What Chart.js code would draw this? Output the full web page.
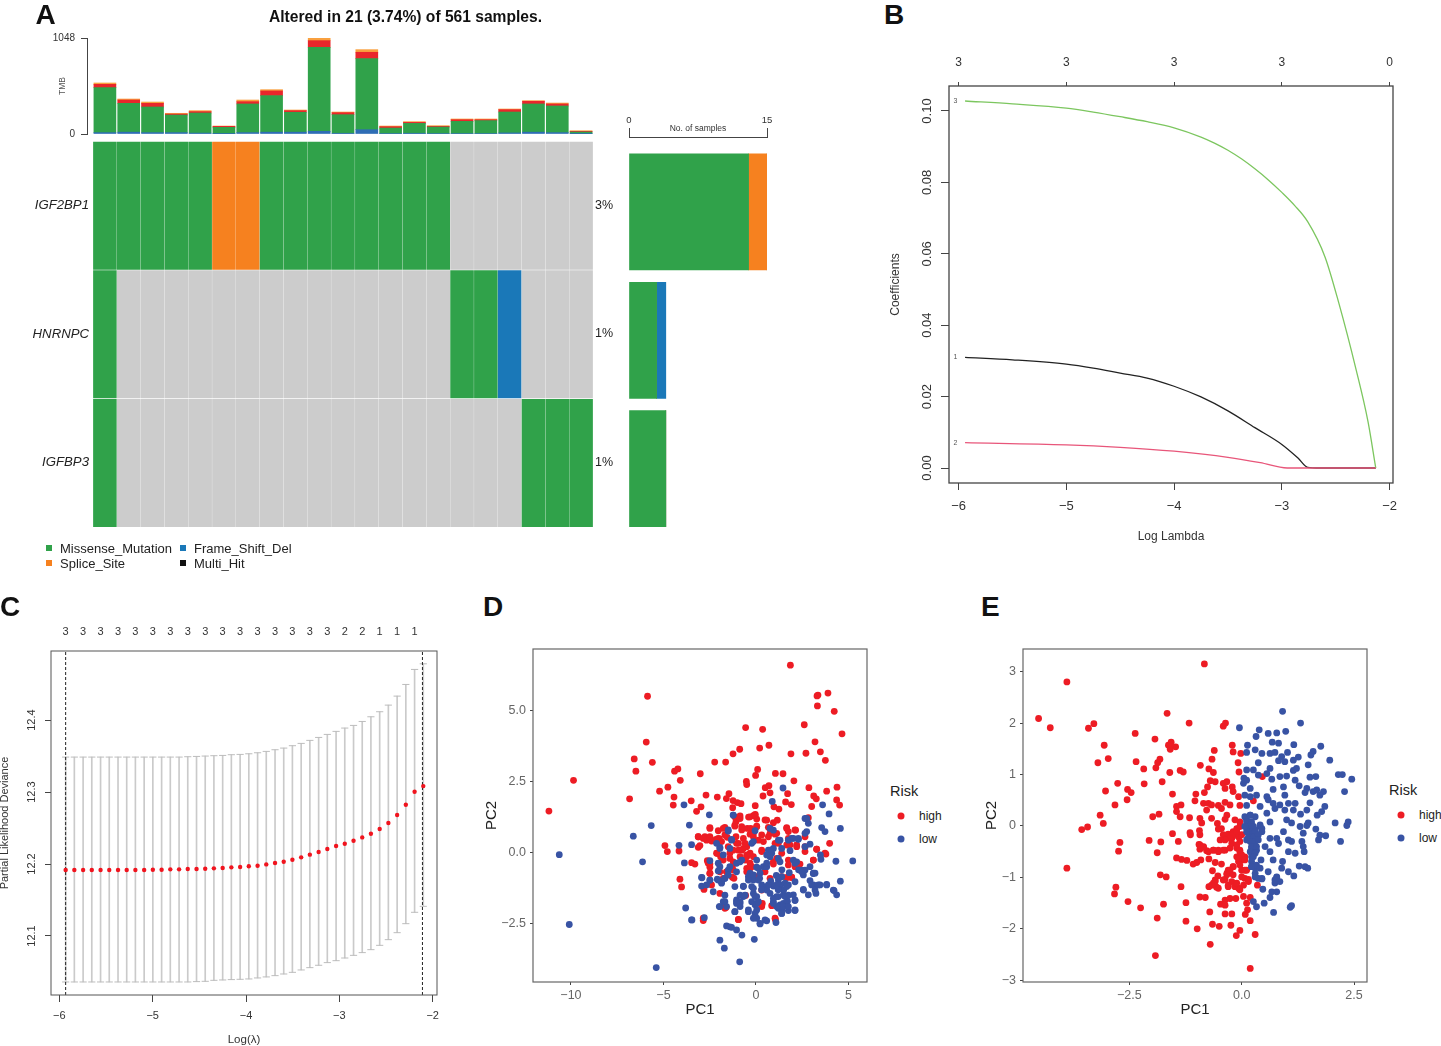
<!DOCTYPE html>
<html>
<head>
<meta charset="utf-8">
<title>Figure</title>
<script src="https://cdn.jsdelivr.net/npm/chart.js@4"></script>
<style>
  html, body { margin: 0; padding: 0; background: #fff; }
  body { position: relative; width: 1441px; height: 1046px; overflow: hidden; font-family: "Liberation Sans", Arial, sans-serif; color: #222; }
  canvas { position: absolute; }
  .txt { position: absolute; white-space: nowrap; line-height: 1; transform: translateY(-50%); }
  .letter { font-weight: bold; color: #111; }
  .sq { position: absolute; width: 6px; height: 6px; transform: translate(-50%, -50%); }
  .dot { position: absolute; width: 7px; height: 7px; border-radius: 50%; transform: translate(-50%, -50%); }
</style>
</head>
<body>
<script>
// Panel A - oncoplot data
const sampleIndex = [0,1,2,3,4,5,6,7,8,9,10,11,12,13,14,15,16,17,18,19,20];
const tmbBlue =   [15,20,15,15,10,3,15,20,20,29,8,47,5,8,5,5,5,12,20,15,3];
const tmbGreen =  [491,315,280,192,219,70,313,399,217,917,203,776,60,108,71,133,141,228,308,291,19];
const tmbRed =    [36,36,40,11,15,11,25,51,18,73,22,69,15,11,8,18,10,26,29,22,7];
const tmbOrange = [15,11,14,8,11,3,18,14,7,29,7,29,7,8,7,8,8,7,7,10,7];

const genes = ["IGF2BP1", "HNRNPC", "IGFBP3"];
const genePercent = ["3%", "1%", "1%"];
const geneRows = [2, 1, 0];
const geneTicks = [2.5, 1.5, 0.5];
const igf2bp1Cells = ["M","M","M","M","M","S","S","M","M","M","M","M","M","M","M","N","N","N","N","N","N"];
const hnrnpcCells =  ["M","N","N","N","N","N","N","N","N","N","N","N","N","N","N","M","M","F","N","N","N"];
const igfbp3Cells =  ["M","N","N","N","N","N","N","N","N","N","N","N","N","N","N","N","N","N","M","M","M"];
const missenseCounts = [13, 3, 4];
const spliceCounts = [2, 0, 0];
const frameshiftCounts = [0, 1, 0];

// Panel B - coefficient paths
const greenX = [-5.94,-5.5,-5,-4.75,-4.5,-4.25,-4,-3.75,-3.625,-3.5,-3.375,-3.25,-3.125,-3,-2.88,-2.76,-2.6,-2.47,-2.31,-2.2,-2.128];
const greenY = [.1028,.102,.1008,.0997,.0984,.097,.0953,.0927,.091,.089,.0866,.0838,.0807,.0772,.0735,.069,.0592,.0461,.0275,.013,0];
const blackX = [-5.94,-5.5,-5,-4.75,-4.5,-4.25,-4,-3.75,-3.5,-3.25,-3,-2.85,-2.76,-2.65,-2.128];
const blackY = [.031,.0303,.0291,.028,.0266,.0252,.0229,.0199,.016,.0113,.0066,.0028,.0002,0,0];
const pinkX = [-5.94,-5,-4.5,-4,-3.5,-3.2,-2.95,-2.128];
const pinkY = [.0071,.0065,.0058,.0047,.003,.0015,0,0];
const pathTopTicks = [-6,-5,-4,-3,-2];
const pathTopLabels = ["3","3","3","3","0"];
const pathLabels = ["3","1","2"];

// Panel C - cross validation curve
const cvLambda = [-5.932,-5.839,-5.745,-5.652,-5.558,-5.465,-5.371,-5.278,-5.185,-5.091,-4.998,-4.904,-4.811,-4.717,-4.624,-4.53,-4.437,-4.344,-4.25,-4.157,-4.063,-3.97,-3.876,-3.783,-3.689,-3.596,-3.503,-3.409,-3.316,-3.222,-3.129,-3.035,-2.942,-2.848,-2.755,-2.662,-2.568,-2.475,-2.381,-2.288,-2.194,-2.101];
const cvMean = [12.1917,12.1917,12.1917,12.1917,12.1917,12.1917,12.1917,12.1917,12.1917,12.1917,12.1921,12.1921,12.1926,12.1926,12.1931,12.1931,12.1935,12.194,12.1944,12.1954,12.1958,12.1968,12.1977,12.1995,12.2014,12.2032,12.206,12.2093,12.213,12.2167,12.2208,12.225,12.2282,12.2324,12.237,12.2421,12.2486,12.257,12.2681,12.2824,12.3005,12.3083];
const cvUpper = [12.3486,12.3486,12.3486,12.3486,12.3486,12.3486,12.3486,12.3486,12.3486,12.3486,12.3486,12.3486,12.3486,12.3486,12.3491,12.3495,12.35,12.3505,12.3509,12.3519,12.3523,12.3532,12.3546,12.3565,12.3588,12.3611,12.3644,12.3676,12.3718,12.3759,12.3801,12.3843,12.3889,12.3926,12.3981,12.4046,12.4116,12.4208,12.4333,12.4495,12.4704,12.4782];
const cvLower = [12.0361,12.0361,12.0361,12.0361,12.0361,12.0361,12.0361,12.0361,12.0361,12.0361,12.0361,12.0361,12.0361,12.0361,12.0361,12.0366,12.037,12.0384,12.0389,12.0394,12.0398,12.0403,12.0417,12.0431,12.0449,12.0472,12.0495,12.0528,12.056,12.0593,12.063,12.0657,12.0694,12.0731,12.0769,12.081,12.087,12.0949,12.1046,12.1171,12.1329,12.1412];
const cvVlines = [-5.932, -2.11];
const cvTopTicks = [-5.932,-5.745,-5.558,-5.371,-5.185,-4.998,-4.811,-4.624,-4.437,-4.25,-4.063,-3.876,-3.689,-3.503,-3.316,-3.129,-2.942,-2.755,-2.568,-2.381,-2.194];
const cvTopLabels = ["3","3","3","3","3","3","3","3","3","3","3","3","3","3","3","3","2","2","1","1","1"];

// Panel D - PCA, pairs of PC1, PC2
const dHigh = [[1.86,6.58],[-5.86,5.49],[3.89,5.6],[3.35,5.53],[3.3,5.5],[3.32,5.15],[4.23,4.96],[-.56,4.39],[.36,4.33],[2.61,4.49],[4.65,4.17],[-5.93,3.88],[3.19,3.89],[.2,3.67],[.7,3.77],[-.88,3.63],[-1.24,3.47],[1.89,3.47],[2.7,3.49],[3.48,3.54],[-6.58,3.29],[-5.6,3.17],[-2.23,3.18],[-1.64,3.18],[3.75,3.24],[-6.49,2.86],[-4.4,2.86],[-4.22,2.94],[-3.01,2.77],[.09,2.92],[-.02,2.71],[1.05,2.78],[1.46,2.77],[-9.86,2.54],[-4.09,2.54],[2.05,2.52],[-.52,2.5],[-.5,2.39],[-4.76,2.3],[-5.21,2.16],[.5,2.28],[.7,2.35],[2.86,2.28],[4.38,2.3],[3.82,2.16],[.76,2.1],[1.71,2.07],[-6.83,1.89],[-4.43,1.95],[-2.7,2.02],[-2.09,1.95],[-1.46,2.07],[.38,1.99],[3.12,1.99],[3.26,1.89],[4.36,1.85],[-1.6,1.9],[-3.5,1.82],[-1.24,1.83],[-1.01,1.76],[-.81,1.72],[1.6,1.78],[1.91,1.69],[-4.47,1.67],[-2.97,1.61],[-.04,1.65],[.97,1.61],[1.24,1.53],[3.01,1.62],[4.52,1.67],[-11.19,1.46],[-3.21,1.45],[-1.26,1.58],[2.83,1.23],[-.14,1.3],[-.04,1.34],[-1.15,1.26],[-.86,1.29],[-.4,1.25],[.04,1.18],[-1.08,1.09],[-.77,.91],[-1.14,.93],[-.47,.85],[-.29,.85],[.04,.93],[.58,1.14],[.67,.89],[.94,1.05],[1.15,1.14],[-2.49,.88],[-1.68,.89],[-2.04,.77],[-2.49,.56],[-3.12,.56],[-2.76,.56],[-2.67,.44],[-2.4,.41],[-2.16,.47],[-1.98,.49],[-1.86,.39],[-1.55,.54],[-1.08,.56],[-.68,.5],[-.32,.65],[-.14,.56],[.13,.44],[.4,.39],[.76,.68],[1.03,.65],[1.66,.88],[1.75,.74],[2.14,.79],[1.21,.33],[1.66,.27],[2.2,.21],[2.65,.56],[3.28,.12],[3.98,.33],[3.78,-.05],[3.1,-.26],[-3.12,.19],[-3.03,.25],[-4.92,.25],[-4.79,.04],[-4.16,.06],[-3.48,-.35],[-3.3,-.4],[-2.63,-.28],[-2.49,-.4],[-2.09,-.02],[-1.91,-.14],[-1.5,.21],[-1.41,-.02],[-1.05,.33],[-.95,.09],[-.68,.15],[-.5,.21],[-.32,-.02],[-.5,-.14],[-.59,-.26],[-.14,-.14],[.31,.04],[.94,-.32],[1.12,-.2],[1.39,-.02],[1.75,-.26],[2.11,-.49],[2.2,-.43],[2.38,-.4],[-2.49,-.72],[-2.49,-.51],[-1.59,-.67],[-1.77,-.26],[-1.23,-.32],[-1.28,-.49],[-.5,-.55],[-.23,-.49],[.04,-.84],[.49,-.67],[.94,-.4],[1.39,-.84],[1.75,-.86],[1.93,-.86],[-1.28,-.86],[-1.19,-.9],[-1.77,-.9],[-4.11,-.93],[-4.02,-1.2],[-2.81,-1.29],[-2.4,-1.13],[-1.95,-1.43],[-.56,-1.5],[-1.62,-1.92],[.34,-1.78],[.31,-1.89],[-.95,-2.35],[1.05,-2.34],[-2.85,-2.38],[.85,-1.86],
  [-.32,1.26],[-.05,1.32],[-.86,1.2],[.49,1.15],[.76,.85],[.04,.91],[-.14,.68],[.31,.62],[.67,.56],[1.12,.68],[-.77,.8],[-1.14,.97],[-1.77,.85],[-2.49,.85],[-3.12,.56],[-2.85,.5],[-2.49,.5],[-2.04,.5],[-1.68,.62],[-.95,.33],[-.59,.33],[-.77,.09],[-.5,-.08],[.31,.09],[1.03,.33],[1.66,.85],[1.75,.5],[2.11,.8],[1.84,.27],[2.2,.27],[2.65,.21],[2.65,.04],[3.28,.12],[3.73,-.02],[3.1,-.26],[2.2,-.37],[1.75,-.43],[1.93,-.87],[1.66,-.87],[.76,-.9],[.31,-1.31],[.31,-1.84],[-.32,-.55],[-.5,-.67],[-1.23,-.61],[-1.59,-.67],[-1.95,-.67],[-2.49,-.73],[-2.58,-.37],[-1.86,-.14],[-1.41,-.2],[-2.13,-.02],[-1.23,.09],[-.86,-.14],[-.32,-.37],[1.03,-2.3],[-.95,-2.34],[-2.85,-2.3],[-1.68,-1.95]];
const dLow = [[1.46,2.27],[.88,1.8],[-3.89,1.68],[3.6,1.68],[3.95,1.36],[-2.52,1.33],[-1.23,1.32],[2.65,1.2],[2.83,1.03],[2.74,.74],[-3.6,.97],[-5.66,.95],[3.55,.88],[3.73,.74],[4.56,.85],[-1.5,.76],[-6.63,.58],[-4.16,.26],[-3.48,.28],[-10.63,-.07],[-6.13,-.32],[-3.87,-.36],[5.23,-.29],[4.32,-.3],[3.51,-.23],[3.48,-.08],[2.92,.3],[2.65,.21],[1.93,.5],[2.29,.47],[1.75,.44],[1.84,.07],[.67,.09],[.94,.15],[1.3,.44],[.76,-.14],[.4,-.49],[.04,-.51],[.58,-.49],[.22,-.72],[-.32,-.72],[-.41,-.84],[-.68,-1.17],[-.14,-.96],[.31,-1.13],[.58,-1.19],[.94,-1.17],[1.3,-1.13],[1.57,-1.07],[1.75,-1.13],[.76,-1.43],[1.12,-1.54],[1.48,-1.48],[1.66,-1.54],[2.02,-1.48],[3.1,-.72],[2.92,-.98],[3.1,-1.13],[2.56,-1.29],[2.83,-1.48],[3.24,-1.43],[3.46,-1.13],[3.82,-1.11],[4.56,-1],[4.22,-1.33],[4.36,-1.48],[2.11,-1.68],[1.39,-2.13],[1.75,-2.03],[2.11,-2.03],[1.3,-1.83],[1.48,-1.78],[.94,-1.72],[1.12,-1.89],[.58,-1.31],[.04,-1.54],[-.14,-1.43],[-.05,-1.83],[.04,-2.01],[-.41,-2.07],[.04,-2.3],[.22,-2.5],[.58,-2.39],[1.08,-2.45],[-1.05,-1.78],[-.86,-1.72],[-1.14,-2.07],[-1.59,-1.89],[-1.98,-1.89],[-1.68,-1.72],[-3.8,-1.94],[-3.46,-2.36],[-2.79,-2.28],[-1.59,-2.57],[-1.32,-2.62],[-1.05,-2.71],[-.76,-2.89],[-1.95,-3.07],[-1.71,-3.35],[-.09,-3.04],[-.88,-3.83],[-5.39,-4.03],[-10.09,-2.52],[-2.94,-1.17],[-2.92,-.88],[-2.31,-1.37],[-2.49,-.96],[-2.09,-.93],[-1.86,-1.07],[-1.68,-.9],[-1.5,-.61],[-1.05,-.67],[-.77,-.26],[-1.95,-.49],[-2.04,-.64],[-2.04,-.37],[-2.49,-.28],[-1.41,.15],[-1.32,.44],[-1.95,.19],[-.23,.33],[.94,.79],[-.05,.77],[.76,.85],[.85,-.02],[1.39,.15],[2.02,-.26],[2.2,-.32],[2.47,-.61],[2.92,-.49],[3.19,-.72],[2.56,-.78],[2.11,-1.02],[-.14,-1.25],[-.68,-1.54],[-1.05,-1.66],[-.86,-1.89],[-.23,-1.72],[.04,-1.78],[1.39,-2.01],[1.66,-1.78],[.04,-.26],[.8,-1],[1.1,-.8],[1.5,-1.3],[1.2,-1.3],[.3,-1.3],[.2,-.9],[1.7,-1.7],[1.4,-.6],[1.8,-.7],[2.3,-.6],
  [-.14,.39],[.76,.09],[.58,-.08],[1.21,.44],[2.02,.5],[2.29,.5],[2.65,.68],[2.74,1.2],[-1.23,1.32],[-1.5,.8],[-1.32,.47],[-2.13,.33],[-1.95,.15],[-1.77,-.08],[-1.05,-.37],[-.86,-.32],[-1.41,-.49],[.13,-.55],[.58,-.37],[1.21,-.2],[1.3,-.32],[2.11,-.37],[2.65,-.61],[3.1,-.73],[2.47,-.67],[1.39,-.84],[1.21,-.96],[-.14,-.78],[-.41,-.96],[.13,-.96],[-.23,-1.19],[.67,-1.13],[1.12,-1.13],[1.66,-1.19],[-.68,-1.19],[-1.14,-1.19],[-1.68,-.9],[-1.86,-1.02],[-2.04,-.96],[-1.5,-.78],[-2.49,-.96],[-2.94,-.87],[-2.67,-1.13],[-.86,-1.49],[-.59,-1.49],[-.05,-1.54],[.13,-1.72],[-1.05,-1.72],[-.86,-1.78],[-1.68,-1.49],[-1.77,-1.72],[-1.95,-1.89],[-1.14,-2.07],[-.41,-2.01],[-.05,-2.13],[.94,-1.6],[1.21,-1.54],[1.57,-1.54],[1.75,-1.49],[.94,-1.78],[1.21,-1.95],[1.48,-1.89],[1.75,-1.89],[2.11,-2.01],[1.39,-2.13],[.49,-2.36],[.22,-2.48],[-.14,-2.3],[2.56,-1.31],[3.01,-1.13],[3.19,-1.31],[3.37,-1.13],[3.82,-1.13],[4.18,-1.31],[2.11,-1.66],[-1.41,-2.6],[-3.48,-2.36]];

// Panel E - PCA, pairs of PC1, PC2
const eHigh = [[-.83,3.15],[-3.89,2.8],[-4.52,2.09],[-4.26,1.91],[-3.41,1.9],[-3.29,1.99],[-1.66,2.19],[-1.17,2],[-.41,1.94],[-.36,2],[-2.37,1.8],[-1.93,1.69],[-3.06,1.57],[-1.57,1.63],[-1.63,1.57],[-1.47,1.54],[-1.59,1.49],[-1.58,1.59],[-.21,1.57],[-.61,1.47],[-.19,1.44],[-.02,1.41],[-2.97,1.31],[-3.2,1.23],[-2.35,1.25],[-.66,1.3],[-1.82,1.3],[-1.87,1.23],[-1.91,1.13],[-2.18,1.11],[-.92,1.18],[-.08,1.23],[-.73,1.11],[-.63,1.04],[-1.6,1.04],[-1.37,1.08],[-1.3,1.05],[-.06,1.05],[-2.76,.83],[-2.17,.82],[-1.77,.86],[.46,.96],[-.7,.88],[-.59,.86],[-.76,.76],[-.83,.65],[-1.02,.62],[-.41,.83],[-.33,.86],[-.37,.73],[-.21,.76],[-.19,.67],[-3.03,.68],[-2.54,.71],[-2.46,.65],[-2.55,.51],[-1.54,.62],[-2.82,.41],[-1.04,.49],[-.85,.44],[-.74,.44],[-.67,.41],[-.78,.31],[-.52,.4],[-.45,.34],[-.37,.46],[-.26,.41],[-.07,.57],[-.04,.4],[.26,.49],[-1.35,.41],[-1.45,.38],[-1.45,.28],[-1.37,.18],[-3.15,.21],[-1.98,.18],[-1.84,.23],[-1.16,.16],[-.93,.15],[-.89,.06],[-.67,.15],[-.54,.05],[-.33,.21],[-.37,.13],[-.15,.12],[-.04,.08],[-3.08,.05],[-3.43,-.02],[-3.56,-.07],[-1.54,-.15],[-1.15,-.13],[-1.14,-.17],[-.94,-.09],[-.93,-.17],[-.52,-.06],[-.41,-.17],[-.3,-.16],[-.19,-.11],[-.11,-.05],[-.07,-.21],[-.22,-.24],[-.04,-.3],[-2.71,-.32],[-2.06,-.28],[-1.8,-.31],[-1.41,-.3],[-.95,-.36],[-.85,-.4],[-.93,-.45],[-.78,-.48],[-.63,-.47],[-.52,-.47],[-.37,-.47],[-.26,-.43],[-.11,-.43],[-.04,-.5],[-2.74,-.49],[-1.88,-.52],[-1.45,-.62],[-1.34,-.65],[-1.22,-.67],[-1.08,-.74],[-1,-.71],[-.91,-.66],[-.73,-.64],[-.59,-.71],[-.45,-.74],[-.11,-.6],[0,-.66],[-.07,-.69],[.07,-.6],[-3.89,-.82],[-.65,-.87],[-.3,-.86],[-.19,-.79],[-.33,-.92],[0,-.86],[.11,-.86],[-1.81,-.95],[-1.68,-.99],[-.53,-.97],[-.59,-1.05],[-.37,-1.04],[-.22,-1.08],[.07,-1.02],[.15,-1.04],[-1.35,-1.18],[-2.8,-1.19],[-2.83,-1.32],[-.73,-1.18],[-.63,-1.11],[-.56,-1.19],[-.3,-1.18],[-.15,-1.18],[-.07,-1.21],[.35,-1.15],[-2.53,-1.47],[-.93,-1.38],[-.81,-1.39],[-.37,-1.44],[-.26,-1.41],[-.13,-1.41],[.04,-1.37],[.19,-1.39],[-1.74,-1.52],[-1.24,-1.49],[-.47,-1.52],[-.37,-1.54],[.11,-1.5],[-2.25,-1.59],[-.71,-1.67],[-.37,-1.71],[-.22,-1.71],[.08,-1.72],[.13,-1.63],[-1.88,-1.79],[-1.24,-1.85],[.19,-1.84],[-.65,-1.91],[-.5,-1.95],[-.24,-1.93],[-.99,-2],[-.04,-2.03],[-.12,-2.13],[.3,-2.11],[-.7,-2.3],[-1.92,-2.52],[.19,-2.77],
  [-.19,-.17],[-.07,-.21],[-.26,-.24],[0,-.17],[-.04,-.01],[-.11,-.11],[-.22,-.34],[-.11,-.37],[-.04,-.47],[0,-.56],[.07,-.66],[-.07,-.63],[-.04,-.76],[.07,-.86],[-.19,-.79],[-.26,-.86],[-.33,-.95],[-.19,-.95],[0,-.99],[.15,-1.08],[-.41,-.47],[-.52,-.5],[-.63,-.47],[-.74,-.5],[-.93,-.37],[-.85,-.41],[-.37,-.27],[-.48,-.27],[-.45,-.05],[-.41,-1.05],[-.59,-1.08],[-.52,-1.21],[-.67,-1.15],[-.3,-1.15],[-.11,-1.11],[.04,-1.15],[-.04,-1.24]];
const eLow = [[.91,2.23],[1.31,2],[-.05,1.91],[.39,1.87],[.59,1.8],[.78,1.81],[.98,1.84],[.32,1.74],[.68,1.63],[.82,1.61],[1.16,1.58],[.13,1.57],[1.76,1.55],[.3,1.48],[.11,1.43],[.45,1.41],[.63,1.41],[.74,1.43],[1.02,1.43],[1.59,1.45],[1.54,1.38],[.89,1.35],[1.26,1.34],[1.15,1.28],[.96,1.25],[.82,1.27],[1.96,1.28],[.37,1.23],[.63,1.12],[1.48,1.19],[1.22,1.12],[1.15,1.08],[.11,1.09],[.26,1.09],[.37,.99],[.56,1.02],[2.15,1],[2.24,1],[2.45,.91],[1.52,.95],[1.65,.96],[.85,.96],[.67,.91],[1,.97],[1.19,.89],[.05,.93],[.11,.89],[.04,.83],[.19,.73],[1.28,.78],[1.45,.73],[1.41,.65],[1.59,.67],[1.67,.7],[1.82,.67],[1.74,.6],[2.29,.67],[.7,.71],[.56,.57],[.93,.76],[.96,.6],[.33,.6],[.19,.57],[.07,.6],[.11,.4],[.41,.38],[.59,.51],[.7,.44],[.85,.41],[1.04,.44],[1.19,.44],[1.52,.45],[1.85,.38],[1.78,.28],[1.45,.31],[1.15,.31],[.96,.31],[.74,.34],[.56,.25],[.19,.21],[.3,.18],[1.68,.21],[1.31,.23],[.11,.12],[.63,.08],[1,.12],[1.11,.06],[1.48,.06],[2.08,.06],[2.37,.08],[2.34,.01],[.22,.02],[.41,-.01],[1.3,-.01],[1.45,.01],[1.65,-.06],[.15,-.08],[.3,-.08],[.45,-.11],[.93,-.11],[1.37,-.14],[1.74,-.18],[1.87,-.19],[1.71,-.27],[2.2,-.3],[.19,-.21],[.3,-.21],[.63,-.24],[.78,-.24],[1.04,-.27],[1.34,-.3],[.11,-.27],[.26,-.34],[.52,-.4],[.82,-.34],[1.11,-.3],[1.37,-.4],[.22,-.43],[.33,-.47],[.63,-.5],[1.04,-.5],[1.19,-.53],[1.39,-.5],[.26,-.53],[.22,-.6],[.7,-.66],[.43,-.66],[.91,-.69],[.22,-.79],[.3,-.82],[1.28,-.78],[1.41,-.79],[1.47,-.82],[.89,-.82],[.59,-.89],[1.04,-.89],[1.16,-.97],[.3,-.99],[.45,-1.03],[.78,-1],[.74,-1.11],[.47,-1.23],[.78,-1.28],[.67,-1.28],[.63,-1.39],[.26,-1.47],[.33,-1.57],[.5,-1.5],[.71,-1.68],[1.11,-1.55],[1.08,-1.58],
  [.07,.18],[.19,.21],[.11,.08],[.22,.08],[.15,-.01],[.26,-.01],[.19,-.11],[.3,-.11],[.15,-.21],[.26,-.21],[.37,-.17],[.19,-.3],[.3,-.3],[.22,-.4],[.33,-.4],[.19,-.5],[.3,-.53],[.26,-.6],[.22,-.69],[.37,-.27],[.11,-.11],[.45,-.05],[.41,.02],[.07,-.01],[.33,-.76],[.22,-.79],[.41,-.82],[.3,-.92],[.37,-1.02],[.45,-1.02],[.78,-.99],[.85,-1.08],[.74,-1.05]];

const riskLabels = ["high", "low"];
const legendItems = ["Missense_Mutation", "Splice_Site", "Frame_Shift_Del", "Multi_Hit"];

// Colours
const GREEN = "#30A24A", ORANGE = "#F6811F", BLUE = "#1A78B8", GREY = "#CCCCCC", RED = "#E9262B";
const RISK_RED = "#ED1C24", RISK_BLUE = "#3853A4";
const cellColor = { M: GREEN, S: ORANGE, F: BLUE, N: GREY };

Chart.defaults.animation = false;
Chart.defaults.responsive = false;
Chart.defaults.font.family = '"Liberation Sans", Arial, sans-serif';
Chart.defaults.plugins.legend.display = false;
Chart.defaults.plugins.tooltip.enabled = false;

// Rectangle round the plot area
const frame = {
    id: "frame",
    afterDraw(chart, args, opts) {
        if (!opts.color) return;
        const a = chart.chartArea, c = chart.ctx;
        c.save();
        c.strokeStyle = opts.color;
        c.lineWidth = opts.width || 1;
        c.strokeRect(a.left, a.top, a.right - a.left, a.bottom - a.top);
        c.restore();
    }
};

// Little 3 / 1 / 2 labels at the start of the paths in B
const pathTags = {
    id: "pathTags",
    afterDatasetsDraw(chart) {
        const c = chart.ctx, xs = chart.scales.x, ys = chart.scales.y;
        c.save();
        c.font = '7px "Liberation Sans"';
        c.fillStyle = "#555";
        c.textAlign = "center";
        c.textBaseline = "middle";
        chart.data.datasets.forEach((d, i) => {
            c.fillText(pathLabels[i], xs.getPixelForValue(-6.03), ys.getPixelForValue(d.data[0].y));
        });
        c.restore();
    }
};

// Canvas placed so that the plot area lands on box [l, t, r, b], with margins m around it
function draw(box, m, config) {
    const cv = document.createElement("canvas");
    cv.width = box[2] - box[0] + m.l + m.r;
    cv.height = box[3] - box[1] + m.t + m.b;
    cv.style.left = (box[0] - m.l) + "px";
    cv.style.top = (box[1] - m.t) + "px";
    document.body.appendChild(cv);
    config.options.layout = { padding: m.pad || 0 };
    config.plugins = (config.plugins || []).concat([frame]);
    return new Chart(cv, config);
}

const fixH = h => s => { s.height = h; };
const fixW = w => s => { s.width = w; };
const ticksAt = vals => s => { s.ticks = vals.map(v => ({ value: v })); };
const minus = t => String(t).replace("-", "\u2212");
const pairs = arr => arr.map(p => ({ x: p[0], y: p[1] }));

function text(str, x, y, size, cls) {
    const el = document.createElement("div");
    el.className = "txt " + (cls || "");
    el.textContent = str;
    el.style.left = x + "px";
    el.style.top = y + "px";
    el.style.fontSize = size + "px";
    document.body.appendChild(el);
    return el;
}

function marker(cls, x, y, color) {
    const el = document.createElement("div");
    el.className = cls;
    el.style.left = x + "px";
    el.style.top = y + "px";
    el.style.background = color;
    document.body.appendChild(el);
}

// ---- Panel A: TMB bars
draw([87, 38, 593, 134], { l: 42, r: 0, t: 14, b: 14, pad: { bottom: 14, top: 14 } }, {
    type: "bar",
    data: {
        datasets: [
            { data: sampleIndex.map(i => ({ x: i, y: tmbBlue[i] })), backgroundColor: "#2F6DB5" },
            { data: sampleIndex.map(i => ({ x: i, y: tmbGreen[i] })), backgroundColor: GREEN },
            { data: sampleIndex.map(i => ({ x: i, y: tmbRed[i] })), backgroundColor: RED },
            { data: sampleIndex.map(i => ({ x: i, y: tmbOrange[i] })), backgroundColor: "#F9A03F" }
        ].map(d => Object.assign(d, { stack: "tmb", barThickness: 22 }))
    },
    options: {
        scales: {
            x: { type: "linear", display: false, min: -0.752, max: 20.5, offset: false },
            y: {
                min: 0, max: 1048, stacked: true,
                afterFit: fixW(42), afterBuildTicks: ticksAt([0, 1048]),
                ticks: { font: { size: 10 }, color: "#333", padding: 6, callback: v => v },
                grid: { drawOnChartArea: false, tickLength: 6, color: "#444" },
                border: { display: true, color: "#444", width: 1 },
                title: { display: true, text: "TMB", font: { size: 8.5 }, color: "#555", padding: { top: 12.4, bottom: 0 } }
            }
        }
    }
});

// ---- Panel A: mutation cells
draw([93, 141, 593, 527], { l: 93, r: 30, t: 14, b: 14, pad: { top: 14, bottom: 14, right: 0 } }, {
    type: "bar",
    data: {
        labels: sampleIndex.map(i => "S" + (i + 1)),
        datasets: [igf2bp1Cells, hnrnpcCells, igfbp3Cells].map((cells, r) => ({
            data: cells.map(() => [geneRows[r], geneRows[r] + 0.995]),
            backgroundColor: cells.map(c => cellColor[c]),
            grouped: false,
            barPercentage: 0.99,
            categoryPercentage: 1
        }))
    },
    options: {
        scales: {
            x: { display: false },
            y: {
                min: 0, max: 3,
                afterFit: fixW(93), afterBuildTicks: ticksAt(geneTicks),
                ticks: { font: { size: 13.2, style: "italic" }, color: "#222", padding: 4, callback: (v, i) => genes[i] },
                grid: { display: false, drawTicks: false }, border: { display: false }
            },
            y2: {
                position: "right", min: 0, max: 3,
                afterFit: fixW(30), afterBuildTicks: ticksAt(geneTicks),
                ticks: { font: { size: 12.5 }, color: "#222", padding: 2, callback: (v, i) => genePercent[i] },
                grid: { display: false, drawTicks: false }, border: { display: false }
            }
        }
    }
});

// ---- Panel A: samples per gene
draw([629, 137, 767, 535], { l: 15, r: 15, t: 27, b: 0, pad: { left: 15, right: 15 } }, {
    type: "bar",
    data: {
        datasets: [
            { data: missenseCounts.map((v, i) => ({ x: v, y: i })), backgroundColor: GREEN },
            { data: spliceCounts.map((v, i) => ({ x: v, y: i })), backgroundColor: ORANGE },
            { data: frameshiftCounts.map((v, i) => ({ x: v, y: i })), backgroundColor: BLUE }
        ].map(d => Object.assign(d, { stack: "n", barThickness: 116 }))
    },
    options: {
        indexAxis: "y",
        scales: {
            y: { type: "linear", display: false, reverse: true, min: -0.584, max: 2.517, offset: false },
            x: {
                position: "top", min: 0, max: 15, stacked: true, offset: false,
                afterFit: fixH(27), afterBuildTicks: ticksAt([0, 15]),
                ticks: { font: { size: 9.5 }, color: "#333", padding: 2, maxRotation: 0, callback: v => v },
                grid: { offset: false, drawOnChartArea: false, tickLength: 9, color: "#444" },
                border: { display: true, color: "#444" },
                title: { display: true, text: "No. of samples", font: { size: 8.5 }, color: "#333", padding: { top: 14, bottom: 0 } }
            }
        }
    }
});

// ---- Panel B: coefficient paths
draw([949, 86, 1393, 483], { l: 62, r: 20, t: 40, b: 62, pad: { right: 20 } }, {
    type: "scatter",
    data: {
        datasets: [
            { data: greenX.map((x, i) => ({ x: x, y: greenY[i] })), borderColor: "#7CC65F", order: 2 },
            { data: blackX.map((x, i) => ({ x: x, y: blackY[i] })), borderColor: "#222", order: 3 },
            { data: pinkX.map((x, i) => ({ x: x, y: pinkY[i] })), borderColor: "#E8567A", order: 1 }
        ].map(d => Object.assign(d, { showLine: true, pointRadius: 0, borderWidth: 1.3, cubicInterpolationMode: "monotone" }))
    },
    plugins: [pathTags],
    options: {
        plugins: { frame: { color: "#444", width: 1.3 } },
        scales: {
            x: {
                min: -6.089, max: -1.968,
                afterFit: fixH(62), afterBuildTicks: ticksAt([-6, -5, -4, -3, -2]),
                ticks: { font: { size: 13 }, color: "#333", padding: 9, maxRotation: 0, callback: minus },
                grid: { drawOnChartArea: false, tickLength: 7, color: "#444" },
                border: { display: false },
                title: { display: true, text: "Log Lambda", font: { size: 12 }, color: "#333", padding: { top: 0, bottom: 1 } }
            },
            x2: {
                position: "top", min: -6.089, max: -1.968,
                afterFit: fixH(40), afterBuildTicks: ticksAt(pathTopTicks),
                ticks: { font: { size: 12 }, color: "#333", padding: 12, maxRotation: 0, callback: (v, i) => pathTopLabels[i] },
                grid: { drawOnChartArea: false, tickLength: 4, color: "#444" },
                border: { display: false }
            },
            y: {
                min: -0.0042, max: 0.107,
                afterFit: fixW(62), afterBuildTicks: ticksAt([0, .02, .04, .06, .08, .1]),
                ticks: { font: { size: 13 }, color: "#333", padding: 1, minRotation: 90, maxRotation: 90, crossAlign: "center", callback: v => v.toFixed(2) },
                grid: { drawOnChartArea: false, tickLength: 8, color: "#444" },
                border: { display: false },
                title: { display: true, text: "Coefficients", font: { size: 12 }, color: "#333", padding: { top: 1, bottom: 0 } }
            }
        }
    }
});

// ---- Panel C: partial likelihood deviance
const cvMin = 12.018, cvMax = 12.496;
draw([51, 651, 437, 995], { l: 53, r: 20, t: 30, b: 53, pad: { right: 20 } }, {
    type: "bar",
    data: {
        datasets: [
            { type: "scatter", data: cvLambda.map((x, i) => ({ x: x, y: cvMean[i] })), pointRadius: 2.2, pointBackgroundColor: "#F0141E", pointBorderWidth: 0, order: 1 },
            { type: "scatter", data: [{ x: cvVlines[0], y: cvMin }, { x: cvVlines[0], y: cvMax }], showLine: true, pointRadius: 0, borderColor: "#222", borderWidth: 1, borderDash: [3, 2], order: 2 },
            { type: "scatter", data: [{ x: cvVlines[1], y: cvMin }, { x: cvVlines[1], y: cvMax }], showLine: true, pointRadius: 0, borderColor: "#222", borderWidth: 1, borderDash: [3, 2], order: 2 },
            { type: "scatter", data: cvLambda.map((x, i) => ({ x: x, y: cvUpper[i] })), pointStyle: "line", pointRadius: 3.6, pointBorderColor: "#BDBDBD", pointBorderWidth: 1, order: 3 },
            { type: "scatter", data: cvLambda.map((x, i) => ({ x: x, y: cvLower[i] })), pointStyle: "line", pointRadius: 3.6, pointBorderColor: "#BDBDBD", pointBorderWidth: 1, order: 3 },
            { type: "bar", data: cvLambda.map((x, i) => ({ x: x, y: [cvLower[i], cvUpper[i]] })), backgroundColor: "#CACACA", barThickness: 1, order: 4 }
        ]
    },
    options: {
        plugins: { frame: { color: "#555", width: 1 } },
        scales: {
            x: {
                type: "linear", min: -6.089, max: -1.954, offset: false,
                afterFit: fixH(53), afterBuildTicks: ticksAt([-6, -5, -4, -3, -2]),
                ticks: { font: { size: 11 }, color: "#333", padding: 7, maxRotation: 0, callback: minus },
                grid: { offset: false, drawOnChartArea: false, tickLength: 7, color: "#444" },
                border: { display: false },
                title: { display: true, text: "Log(\u03BB)", font: { size: 11.5 }, color: "#333", padding: { top: 0, bottom: 1.2 } }
            },
            x2: {
                type: "linear", position: "top", min: -6.089, max: -1.954, offset: false,
                afterFit: fixH(30), afterBuildTicks: ticksAt(cvTopTicks),
                ticks: { font: { size: 11 }, color: "#333", padding: 12, autoSkip: false, maxRotation: 0, callback: (v, i) => cvTopLabels[i] },
                grid: { display: false, drawTicks: false },
                border: { display: false }
            },
            y: {
                min: cvMin, max: cvMax,
                afterFit: fixW(53), afterBuildTicks: ticksAt([12.1, 12.2, 12.3, 12.4]),
                ticks: { font: { size: 11 }, color: "#333", padding: 2.6, minRotation: 90, maxRotation: 90, crossAlign: "center", callback: v => v.toFixed(1) },
                grid: { drawOnChartArea: false, tickLength: 6, color: "#444" },
                border: { display: false },
                title: { display: true, text: "Partial Likelihood Deviance", font: { size: 11 }, color: "#333", padding: { top: 0.4, bottom: 0 } }
            }
        }
    }
});

// ---- Panels D and E: PCA scatter
function pca(box, ml, high, low, xr, yr, xt, yt, xf, yf) {
    draw(box, { l: ml, r: 15, t: 16, b: 38, pad: { right: 15, top: 16 } }, {
        type: "scatter",
        data: {
            datasets: [
                { data: pairs(low), backgroundColor: RISK_BLUE, order: 1 },
                { data: pairs(high), backgroundColor: RISK_RED, order: 2 }
            ].map(d => Object.assign(d, { pointRadius: 3.4, pointBorderWidth: 0 }))
        },
        options: {
            plugins: { frame: { color: "#666", width: 1.2 } },
            scales: {
                x: {
                    min: xr[0], max: xr[1],
                    afterFit: fixH(38), afterBuildTicks: ticksAt(xt),
                    ticks: { font: { size: 12.5 }, color: "#666", padding: 3, maxRotation: 0, callback: v => minus(xf(v)) },
                    grid: { drawOnChartArea: false, tickLength: 3, color: "#444" },
                    border: { display: false },
                    title: { display: true, text: "PC1", font: { size: 15 }, color: "#222", padding: { top: 0, bottom: 1 } }
                },
                y: {
                    min: yr[0], max: yr[1],
                    afterFit: fixW(ml), afterBuildTicks: ticksAt(yt),
                    ticks: { font: { size: 12.5 }, color: "#666", padding: 4, callback: v => minus(yf(v)) },
                    grid: { drawOnChartArea: false, tickLength: 3, color: "#444" },
                    border: { display: false },
                    title: { display: true, text: "PC2", font: { size: 15 }, color: "#222", padding: { top: 0, bottom: 0 } }
                }
            }
        }
    });
}

pca([533, 649, 867, 982], 50, dHigh, dLow, [-12.05, 6], [-4.537, 7.147],
    [-10, -5, 0, 5], [-2.5, 0, 2.5, 5], v => v, v => v.toFixed(1));
pca([1023, 649, 1367, 982], 40, eHigh, eLow, [-4.867, 2.789], [-3.033, 3.441],
    [-2.5, 0, 2.5], [-3, -2, -1, 0, 1, 2, 3], v => v.toFixed(1), v => v);

// ---- Texts and legends
text("Altered in 21 (3.74%) of 561 samples.", 269, 17, 15.6, "letter");
text("A", 35.5, 15, 28, "letter");
text("B", 884, 15, 28, "letter");
text("C", 0, 607, 28, "letter");
text("D", 483, 607, 28, "letter");
text("E", 981, 607, 28, "letter");

marker("sq", 49, 548, GREEN);
text(legendItems[0], 60, 548, 13);
marker("sq", 49, 563, ORANGE);
text(legendItems[1], 60, 563, 13);
marker("sq", 183, 548, BLUE);
text(legendItems[2], 194, 548, 13);
marker("sq", 183, 563, "#111");
text(legendItems[3], 194, 563, 13);

text("Risk", 890, 791, 14.5);
marker("dot", 901, 816, RISK_RED);
text(riskLabels[0], 919, 816, 12);
marker("dot", 901, 839, RISK_BLUE);
text(riskLabels[1], 919, 839, 12);

text("Risk", 1389, 790, 14.5);
marker("dot", 1401, 815, RISK_RED);
text(riskLabels[0], 1419, 815, 12);
marker("dot", 1401, 838, RISK_BLUE);
text(riskLabels[1], 1419, 838, 12);
</script>
</body>
</html>
